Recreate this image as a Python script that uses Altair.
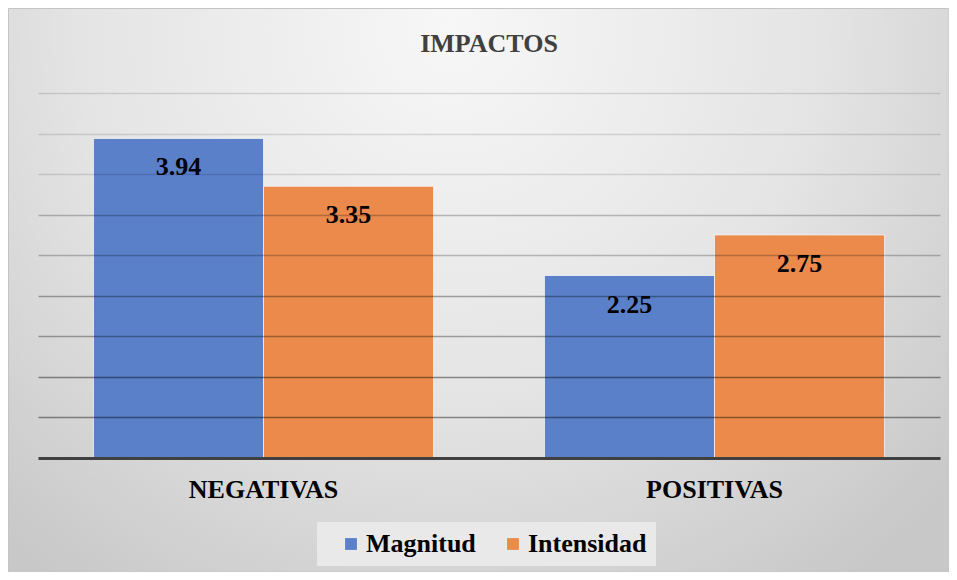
import altair as alt
import pandas as pd

categories = ["NEGATIVAS", "NEGATIVAS", "POSITIVAS", "POSITIVAS"]
series = ["Magnitud", "Intensidad", "Magnitud", "Intensidad"]
values = [3.94, 3.35, 2.25, 2.75]
cat_order = ["NEGATIVAS", "POSITIVAS"]
series_order = ["Magnitud", "Intensidad"]
colors = ["#5a80c9", "#eb8a4b"]
grid_values = [0.5, 1.0, 1.5, 2.0, 2.5, 3.0, 3.5, 4.0, 4.5]

df = pd.DataFrame({"Categoria": categories, "Serie": series, "Valor": values})

FONT = "Liberation Serif"
W, H = 902, 365
PL, PT, PR, PB = 30, 85, 9, 114

bg = alt.Chart(alt.Data(values=[{}])).mark_rect(
    fill=alt.RadialGradient(
        gradient="radial",
        x1=0.47, y1=0.22, r1=0.0,
        x2=0.47, y2=0.22, r2=0.72,
        stops=[
            alt.GradientStop(color="#f7f7f7", offset=0.0),
            alt.GradientStop(color="#e4e4e4", offset=0.55),
            alt.GradientStop(color="#c8c8c8", offset=1.0),
        ],
    ),
    stroke="#c4c4c4",
    strokeWidth=1,
).encode(
    x=alt.value(-PL + 0.5), x2=alt.value(W + PR),
    y=alt.value(-PT + 0.5), y2=alt.value(H + PB),
)

x_enc = alt.X(
    "Categoria:N",
    sort=cat_order,
    scale=alt.Scale(paddingInner=0.246, paddingOuter=0.123),
    axis=alt.Axis(
        title=None, labelAngle=0, ticks=False, tickSize=0,
        domainColor="#404040", domainWidth=3, grid=False,
        labelFont=FONT, labelFontSize=26, labelFontWeight="bold",
        labelColor="#000000", labelPadding=18, zindex=1,
    ),
)
y_enc = alt.Y(
    "Valor:Q",
    scale=alt.Scale(domain=[0, 4.5], nice=False),
    axis=alt.Axis(
        title=None, labels=False, ticks=False, domain=False,
        values=grid_values, grid=True, gridColor="#000000", gridWidth=1.5,
        gridOpacity={
            "condition": [
                {"test": "datum.value >= 3.5", "value": 0.12},
                {"test": "datum.value >= 2.5", "value": 0.24},
                {"test": "datum.value >= 1.5", "value": 0.33},
            ],
            "value": 0.42,
        },
        zindex=1,
    ),
)
xoff = alt.XOffset("Serie:N", sort=series_order,
                   scale=alt.Scale(paddingInner=0, paddingOuter=0))

bars = alt.Chart(df).mark_bar(
    stroke="#f4f4f4", strokeWidth=1, strokeOpacity=0.8
).encode(
    x=x_enc, y=y_enc, xOffset=xoff,
    color=alt.Color(
        "Serie:N", sort=series_order,
        scale=alt.Scale(domain=series_order, range=colors),
        legend=alt.Legend(
            title=None, orient="none", legendX=279, legendY=429,
            direction="horizontal", fillColor="#e9e9e9", padding=9,
            symbolType="square", symbolSize=140, symbolStrokeWidth=0,
            symbolOffset=12,
            labelFont=FONT, labelFontSize=26, labelFontWeight="bold",
            labelColor="#000000", columnPadding=12, labelOffset=2,
        ),
    ),
)

labels = alt.Chart(df).mark_text(
    baseline="middle", dy=29, font=FONT, fontSize=26, fontWeight="bold",
    color="#000000",
).encode(
    x=alt.X("Categoria:N", sort=cat_order),
    xOffset=alt.XOffset("Serie:N", sort=series_order),
    y=alt.Y("Valor:Q"),
    text=alt.Text("Valor:Q", format=".2f"),
)

chart = (
    alt.layer(bg, bars, labels)
    .properties(
        width=W, height=H,
        title=alt.TitleParams(
            "IMPACTOS", font=FONT, fontSize=26, fontWeight="bold",
            color="#404040", anchor="middle", baseline="alphabetic",
            offset=0, dy=70,
        ),
        autosize=alt.AutoSizeParams(type="none"),
        padding={"left": PL, "top": PT, "right": PR, "bottom": PB},
    )
    .configure(background="#ffffff", font=FONT)
    .configure_view(stroke=None)
    .configure_text(font=FONT)
    .configure_axis(labelFont=FONT)
    .configure_legend(labelFont=FONT)
)

chart.save("out.html", embed_options={"renderer": "svg", "actions": False})
